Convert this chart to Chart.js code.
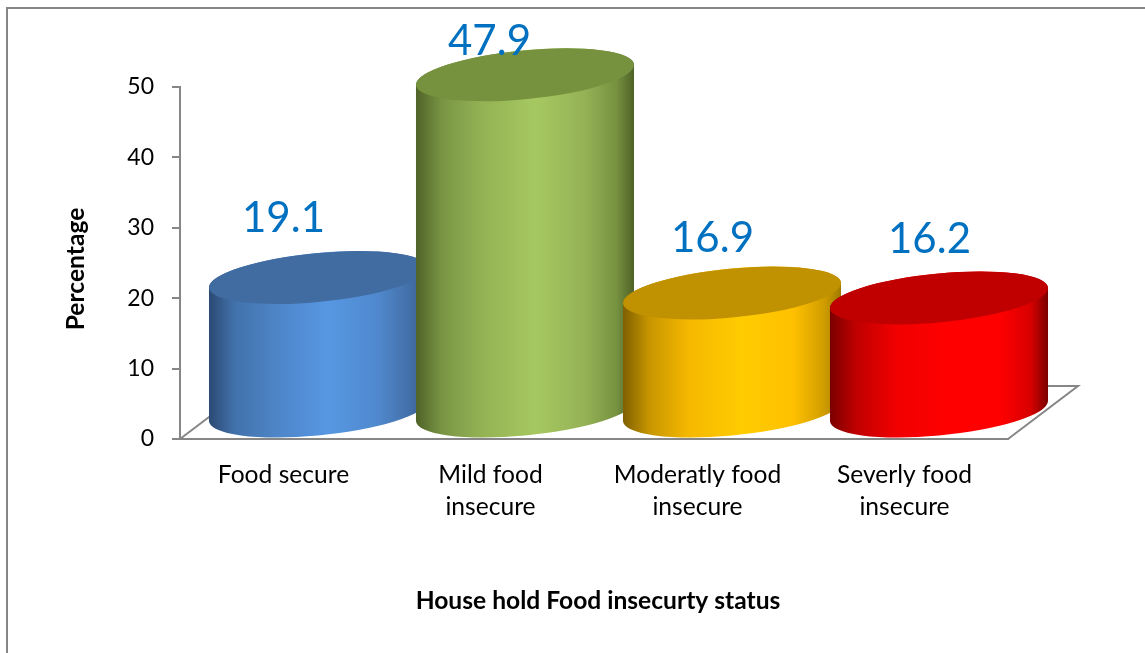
<!DOCTYPE html>
<html>
<head>
<meta charset="utf-8">
<title>House hold Food insecurty status</title>
<script src="https://cdn.jsdelivr.net/npm/chart.js@4"></script>
<style>
  html, body { margin: 0; padding: 0; background: #fff; }
  canvas { display: block; }
</style>
</head>
<body>
<canvas id="chart" width="1145" height="653"></canvas>
<script>
// Chart values
const categories = [['Food secure'], ['Mild food', 'insecure'], ['Moderatly food', 'insecure'], ['Severly food', 'insecure']];
const percentages = [19.1, 47.9, 16.9, 16.2];
const tickValues = [0, 10, 20, 30, 40, 50];
const xTitle = 'House hold Food insecurty status';
const yTitle = 'Percentage';

// Cylinder shading: side gradient stops and the darker lid
const stopOffsets = [0, 0.12, 0.3, 0.55, 0.78, 0.92, 1];
const sideStops = [
    ['#2c4a74', '#4272ab', '#4d84c6', '#5797e3', '#4f88cc', '#436fa8', '#3a6090'],
    ['#4f6228', '#799544', '#93b254', '#a6c861', '#94b155', '#76913f', '#4f6228'],
    ['#7f6000', '#c79500', '#f5b800', '#ffcc00', '#ffc000', '#d19e00', '#a07a00'],
    ['#7a0000', '#c00000', '#f00000', '#ff0000', '#ff0000', '#d80000', '#7a0000']
];
const lidColors = ['#406ca1', '#77923f', '#c09100', '#c00000'];
const labelShift = [[0, 1], [-1, 27], [15, 5], [25, 2]];

const AXIS_GREY = '#868686';
const LABEL_BLUE = '#0070c0';
const FONT = 'Lato';

// Floor depth and the ellipse used for each cylinder
const DEPTH_X = 70, DEPTH_Y = 53;
const BAR_DX = 34.5, BAR_DY = 27;
const RX = 109.5, RY = 24.4, TILT = -5.5 * Math.PI / 180;

// Outer frame and the floor plane behind the bars
const framePlugin = {
    id: 'frame',
    beforeDraw(chart) {
        const ctx = chart.ctx;
        ctx.save();
        ctx.strokeStyle = AXIS_GREY;
        ctx.lineWidth = 2;
        ctx.strokeRect(7, 8, 1150, 660);
        ctx.restore();
    },
    beforeDatasetsDraw(chart) {
        const { ctx, chartArea: a } = chart;
        ctx.save();
        ctx.strokeStyle = AXIS_GREY;
        ctx.lineWidth = 2;
        ctx.beginPath();
        ctx.moveTo(a.left, a.bottom);
        ctx.lineTo(a.left + DEPTH_X, a.bottom - DEPTH_Y);
        ctx.lineTo(a.right + DEPTH_X, a.bottom - DEPTH_Y);
        ctx.lineTo(a.right, a.bottom);
        ctx.stroke();
        ctx.restore();
    }
};

// Draws each bar element as a lit cylinder, then its value above it
const cylinderPlugin = {
    id: 'cylinders',
    afterDatasetsDraw(chart) {
        const ctx = chart.ctx;
        const bars = chart.getDatasetMeta(0).data;
        const t0 = Math.atan2(-RY * Math.sin(TILT), RX * Math.cos(TILT));
        const halfW = Math.sqrt(RX * RX * Math.cos(TILT) ** 2 + RY * RY * Math.sin(TILT) ** 2);

        bars.forEach((bar, i) => {
            const cx = bar.x + BAR_DX;
            const topY = bar.y - BAR_DY;
            const baseY = bar.base - BAR_DY;

            const grad = ctx.createLinearGradient(cx - halfW, 0, cx + halfW, 0);
            stopOffsets.forEach((p, k) => grad.addColorStop(p, sideStops[i][k]));

            ctx.save();
            ctx.beginPath();
            ctx.ellipse(cx, baseY, RX, RY, TILT, t0, t0 + Math.PI, false);
            ctx.ellipse(cx, topY, RX, RY, TILT, t0 + Math.PI, t0 + 2 * Math.PI, false);
            ctx.closePath();
            ctx.fillStyle = grad;
            ctx.fill();

            ctx.beginPath();
            ctx.ellipse(cx, topY, RX, RY, TILT, 0, 2 * Math.PI);
            ctx.fillStyle = lidColors[i];
            ctx.fill();
            ctx.restore();
        });

        ctx.save();
        ctx.font = '42px ' + FONT;
        ctx.fillStyle = LABEL_BLUE;
        ctx.textAlign = 'center';
        ctx.textBaseline = 'middle';
        bars.forEach((bar, i) => {
            ctx.fillText(percentages[i].toFixed(1), bar.x + labelShift[i][0], bar.y - BAR_DY - 60 + labelShift[i][1]);
        });
        ctx.restore();
    }
};

// Axis titles sit a few pixels off the axis centre, so they are placed by hand
const axisTitlePlugin = {
    id: 'axisTitles',
    afterDraw(chart) {
        const { ctx, chartArea: a } = chart;
        ctx.save();
        ctx.font = 'bold 24.6px ' + FONT;
        ctx.fillStyle = '#000';
        ctx.textAlign = 'center';
        ctx.textBaseline = 'middle';
        ctx.fillText(xTitle, (a.left + a.right) / 2 + 4, a.bottom + 162);
        ctx.translate(76, (a.top + a.bottom) / 2 + 6);
        ctx.rotate(-Math.PI / 2);
        ctx.fillText(yTitle, 0, 0);
        ctx.restore();
    }
};

new Chart(document.getElementById('chart'), {
    type: 'bar',
    data: {
        labels: categories,
        datasets: [{
            data: percentages,
            backgroundColor: 'rgba(0, 0, 0, 0)',
            borderWidth: 0
        }]
    },
    options: {
        responsive: false,
        animation: false,
        layout: { padding: { top: 87, right: 137, left: 0, bottom: 0 } },
        plugins: { legend: { display: false }, tooltip: { enabled: false } },
        scales: {
            x: {
                afterFit: (scale) => { scale.height = 214; },
                grid: { display: false },
                border: { color: AXIS_GREY, width: 2 },
                ticks: {
                    color: '#000',
                    padding: 12,
                    maxRotation: 0,
                    autoSkip: false,
                    font: { family: FONT, size: 24.6, lineHeight: 1.3 }
                }
            },
            y: {
                min: 0,
                max: 50,
                afterFit: (scale) => { scale.width = 180; },
                afterBuildTicks: (scale) => { scale.ticks = tickValues.map((value) => ({ value })); },
                grid: { drawOnChartArea: false, color: AXIS_GREY, lineWidth: 2, tickLength: 8 },
                border: { color: AXIS_GREY, width: 2 },
                ticks: {
                    color: '#000',
                    padding: 18,
                    font: { family: FONT, size: 23 }
                }
            }
        }
    },
    plugins: [framePlugin, cylinderPlugin, axisTitlePlugin]
});
</script>
</body>
</html>
